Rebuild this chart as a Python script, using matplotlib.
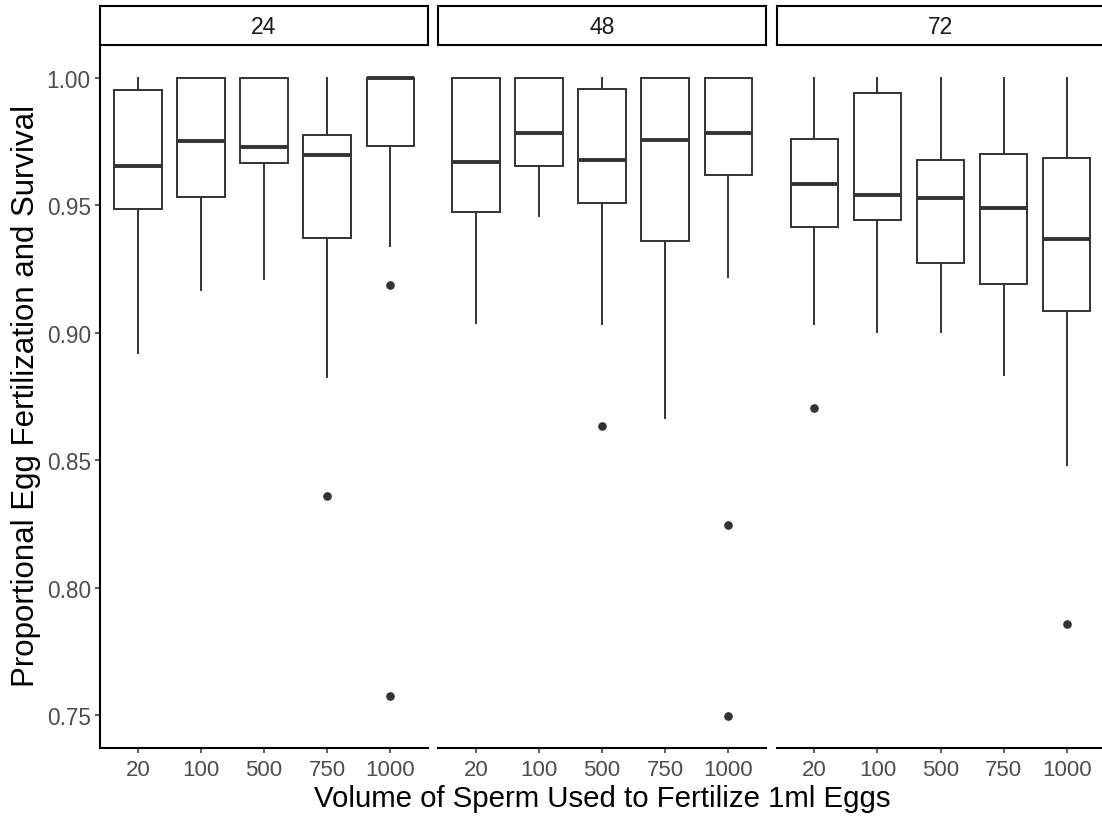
import matplotlib.pyplot as plt

plt.rcParams["font.family"] = ["Liberation Sans", "DejaVu Sans"]

hours = ["24", "48", "72"]
volumes = ["20", "100", "500", "750", "1000"]

# five number summaries, one row per facet (24, 48, 72)
whisker_low = [
    [0.892, 0.917, 0.921, 0.8825, 0.934],
    [0.904, 0.946, 0.9035, 0.8666, 0.9218],
    [0.9035, 0.9002, 0.9002, 0.8836, 0.8482],
]
q1 = [
    [0.9486, 0.9532, 0.9668, 0.9371, 0.9733],
    [0.9473, 0.9653, 0.9509, 0.9359, 0.9621],
    [0.9414, 0.9443, 0.9273, 0.9192, 0.9086],
]
median = [
    [0.9653, 0.9755, 0.9728, 0.9698, 1.0],
    [0.9669, 0.9784, 0.9677, 0.9758, 0.9784],
    [0.9583, 0.9540, 0.9529, 0.9489, 0.9369],
]
q3 = [
    [0.9953, 1.0, 1.0, 0.9775, 1.0],
    [1.0, 1.0, 0.9957, 1.0, 1.0],
    [0.9761, 0.9942, 0.9677, 0.9703, 0.9685],
]
whisker_high = [
    [1.0, 1.0, 1.0, 1.0, 1.0],
    [1.0, 1.0, 1.0, 1.0, 1.0],
    [1.0, 1.0, 1.0, 1.0, 1.0],
]
outliers = [
    [[], [], [], [0.8358], [0.9189, 0.7573]],
    [[], [], [0.8635], [], [0.8247, 0.7497]],
    [[0.8704], [], [], [], [0.7855]],
]

y_ticks = [0.75, 0.80, 0.85, 0.90, 0.95, 1.00]

####################################
# layout in pixels
W, H = 1102, 820
panel_x = [100, 438, 776.5]
panel_w = 328
panel_top = 46
panel_bottom = 749
strip_top = 7

dark = "#333333"
grey_txt = "#4D4D4D"

fig = plt.figure(figsize=(W / 100, H / 100), dpi=100)

for i, hr in enumerate(hours):
    ax = fig.add_axes(
        [
            panel_x[i] / W,
            (H - panel_bottom) / H,
            panel_w / W,
            (panel_bottom - panel_top) / H,
        ]
    )
    stats = []
    for j, vol in enumerate(volumes):
        stats.append(
            {
                "whislo": whisker_low[i][j],
                "q1": q1[i][j],
                "med": median[i][j],
                "q3": q3[i][j],
                "whishi": whisker_high[i][j],
                "fliers": outliers[i][j],
                "label": vol,
            }
        )
    ax.bxp(
        stats,
        positions=range(1, len(volumes) + 1),
        widths=0.75,
        showcaps=False,
        patch_artist=True,
        boxprops=dict(facecolor="white", edgecolor=dark, linewidth=1.4),
        whiskerprops=dict(color=dark, linewidth=1.4),
        medianprops=dict(color=dark, linewidth=2.8, solid_capstyle="butt"),
        flierprops=dict(
            marker="o", markerfacecolor=dark, markeredgecolor=dark, markersize=5.2
        ),
    )
    ax.set_xlim(0.4, 5.6)
    ax.set_ylim(0.737, 1.013)
    ax.set_xticks(range(1, len(volumes) + 1))
    ax.set_xticklabels(volumes)
    ax.tick_params(
        axis="x", length=3.6, width=1.1, color=dark, labelcolor=grey_txt,
        labelsize=16, pad=4,
    )
    for s in ["top", "right"]:
        ax.spines[s].set_visible(False)
    ax.spines["bottom"].set_linewidth(1.5)
    ax.spines["bottom"].set_color("black")
    if i == 0:
        ax.set_yticks(y_ticks)
        ax.set_yticklabels([f"{t:.2f}" for t in y_ticks])
        ax.tick_params(
            axis="y", length=3.6, width=1.1, color=dark, labelcolor=grey_txt,
            labelsize=16.3, pad=3,
        )
        ax.spines["left"].set_linewidth(1.5)
        ax.spines["left"].set_color("black")
    else:
        ax.spines["left"].set_visible(False)
        ax.set_yticks([])

    # facet strip
    sax = fig.add_axes(
        [panel_x[i] / W, (H - panel_top) / H, panel_w / W, (panel_top - strip_top) / H]
    )
    sax.set_xticks([])
    sax.set_yticks([])
    for s in sax.spines.values():
        s.set_linewidth(1.5)
        s.set_color("black")
    sax.text(0.5, 0.48, hr, ha="center", va="center", fontsize=16.5, color="#1A1A1A")

fig.text(
    602 / W, 1 - 807 / H, "Volume of Sperm Used to Fertilize 1ml Eggs",
    ha="center", va="baseline", fontsize=21.2,
)
fig.text(
    26 / W, 1 - 396 / H, "Proportional Egg Fertilization and Survival",
    ha="center", va="center", rotation=90, fontsize=22.5,
)

plt.savefig("out.png", dpi=100)
